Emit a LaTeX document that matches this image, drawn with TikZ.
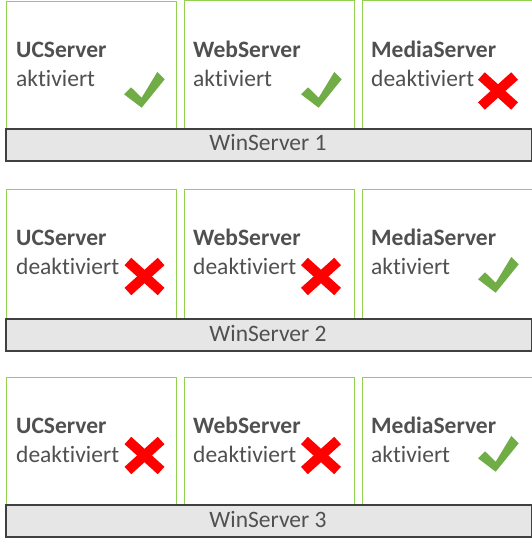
\documentclass[tikz,border=0pt]{standalone}
\usepackage{fontspec}
\setmainfont[Ligatures={NoCommon}]{Carlito}
\definecolor{txt}{HTML}{505050}
\definecolor{boxgreen}{HTML}{92D050}
\definecolor{okgreen}{HTML}{70AD47}
\definecolor{barfill}{HTML}{E6E6E6}
\definecolor{barline}{HTML}{404040}
\begin{document}
\begin{tikzpicture}[x=1bp,y=-1bp,
  svc/.style={draw=boxgreen, line width=1bp, fill=white, anchor=north west, inner sep=0pt, minimum width=170bp, minimum height=128bp},
  barbox/.style={draw=barline, line width=1.6bp, fill=barfill, anchor=north west, inner sep=0pt, minimum width=526bp, minimum height=32bp},
  bartxt/.style={anchor=base, text=txt, font=\fontsize{23.5bp}{28bp}\selectfont, inner sep=0pt},
  title/.style={anchor=base west, text=txt, font=\fontsize{23.5bp}{28bp}\selectfont\bfseries, inner sep=0pt},
  state/.style={anchor=base west, text=txt, font=\fontsize{23.5bp}{28bp}\selectfont, inner sep=0pt},
  pics/okmark/.style={code={
    \fill[okgreen] (0,22.3) -- (7,15.3) -- (17.7,25.7) -- (33.3,0) -- (40.7,7.3) -- (17.7,35.7) -- cycle;}},
  pics/nomark/.style={code={
    \draw[red, line width=10bp] (-16.6,-15) -- (16.6,15);
    \draw[red, line width=10bp] (-16.6,15) -- (16.6,-15);}}
]
\useasboundingbox (0,0) rectangle (532,548);
% Row 1
\node[svc] (b11) at (5.5,1.5) {};
\node[svc] (b12) at (183.5,0.5) {};
\node[svc] (b13) at (361.5,0.5) {};
\node[barbox] (w1) at (5,128) {};
\node[bartxt] (w1t) at (268,151) {WinServer 1};
\node[title] (t11) at (16,58) {UCServer};
\node[state] (s11) at (16,87) {aktiviert};
\node[title] (t12) at (193,58) {WebServer};
\node[state] (s12) at (193,87) {aktiviert};
\node[title] (t13) at (371,58) {MediaServer};
\node[state] (s13) at (371,87) {deaktiviert};
\pic at (124,72) {okmark};
\pic at (301,72) {okmark};
\pic at (498,91) {nomark};
% Row 2
\node[svc] (b21) at (5.5,189.5) {};
\node[svc] (b22) at (183.5,189.5) {};
\node[svc] (b23) at (361.5,189.5) {};
\node[barbox] (w2) at (5,318) {};
\node[bartxt] (w2t) at (268,341) {WinServer 2};
\node[title] (t21) at (16,245) {UCServer};
\node[state] (s21) at (16,274) {deaktiviert};
\node[title] (t22) at (193,245) {WebServer};
\node[state] (s22) at (193,274) {deaktiviert};
\node[title] (t23) at (371,245) {MediaServer};
\node[state] (s23) at (371,274) {aktiviert};
\pic at (144.5,276.5) {nomark};
\pic at (321,276.5) {nomark};
\pic at (478,257) {okmark};
% Row 3
\node[svc] (b31) at (5.5,376.5) {};
\node[svc] (b32) at (183.5,376.5) {};
\node[svc] (b33) at (361.5,376.5) {};
\node[barbox] (w3) at (5,504) {};
\node[bartxt] (w3t) at (268,527) {WinServer 3};
\node[title] (t31) at (16,433) {UCServer};
\node[state] (s31) at (16,462) {deaktiviert};
\node[title] (t32) at (193,433) {WebServer};
\node[state] (s32) at (193,462) {deaktiviert};
\node[title] (t33) at (371,433) {MediaServer};
\node[state] (s33) at (371,462) {aktiviert};
\pic at (144.5,455.5) {nomark};
\pic at (321,455.5) {nomark};
\pic at (478,436) {okmark};
\end{tikzpicture}
\end{document}
